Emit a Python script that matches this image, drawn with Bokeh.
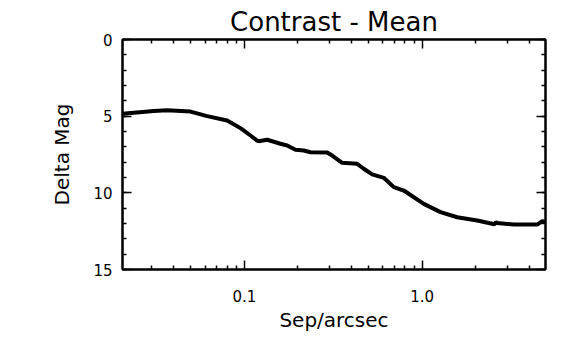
from bokeh.plotting import figure
from bokeh.models import Range1d, FixedTicker, LinearAxis, LogAxis
from bokeh.embed import file_html
from bokeh.resources import INLINE

# Data
sep = [0.0206, 0.0309, 0.0367, 0.0497, 0.0617, 0.0799, 0.0950, 0.1081, 0.1179,
       0.1204, 0.1342, 0.1594, 0.1739, 0.1936, 0.2157, 0.2351, 0.2920, 0.3114,
       0.3546, 0.4306, 0.4692, 0.5232, 0.6081, 0.6921, 0.7385, 0.7880, 1.021,
       1.268, 1.574, 2.040, 2.550, 2.600, 2.643, 3.278, 4.438, 4.735, 4.94]
mag = [4.85, 4.67, 4.62, 4.70, 5.00, 5.28, 5.78, 6.26, 6.59,
       6.63, 6.54, 6.80, 6.91, 7.19, 7.24, 7.35, 7.37, 7.57,
       8.04, 8.11, 8.43, 8.80, 9.02, 9.63, 9.74, 9.85, 10.72,
       11.26, 11.59, 11.80, 12.05, 11.92, 11.96, 12.07, 12.07, 11.85, 11.9]

x_major = [0.1, 1.0]
x_major_labels = {0.1: "0.1", 1.0: "1.0"}
x_minor = [0.03, 0.04, 0.05, 0.06, 0.07, 0.08, 0.09,
           0.2, 0.3, 0.4, 0.5, 0.6, 0.7, 0.8, 0.9, 2.0, 3.0, 4.0]
y_major = [0, 5, 10, 15]
y_minor = list(range(0, 16))

FONT = "DejaVu Sans"

p = figure(width=573, height=344, x_axis_type="log",
           x_range=Range1d(0.0206, 4.94), y_range=Range1d(15, 0),
           output_backend="svg", toolbar_location=None,
           title="Contrast - Mean",
           min_border_left=122, min_border_right=28,
           min_border_top=39, min_border_bottom=75)

p.title.align = "center"
p.title.text_font = FONT
p.title.text_font_size = "26px"
p.title.text_font_style = "normal"
p.title.text_color = "black"
p.title.standoff = 5
p.title.offset = 0

p.xgrid.visible = False
p.ygrid.visible = False
p.outline_line_color = "black"
p.outline_line_width = 2
p.background_fill_color = "white"
p.border_fill_color = "white"

p.line(sep, mag, line_color="black", line_width=4)

def style(ax, major, minor, overrides=None, blank=False):
    ax.ticker = FixedTicker(ticks=major, minor_ticks=minor)
    ax.axis_line_color = "black"
    ax.axis_line_width = 2
    ax.major_tick_in = 9
    ax.major_tick_out = 0
    ax.minor_tick_in = 4
    ax.minor_tick_out = 0
    ax.major_tick_line_width = 1.5
    ax.minor_tick_line_width = 1.5
    ax.major_tick_line_color = "black"
    ax.minor_tick_line_color = "black"
    ax.major_label_text_font = FONT
    ax.major_label_text_font_size = "15px"
    ax.major_label_text_color = "black"
    ax.axis_label_text_font = FONT
    ax.axis_label_text_font_size = "20px"
    ax.axis_label_text_font_style = "normal"
    ax.axis_label_text_color = "black"
    if overrides:
        ax.major_label_overrides = overrides
    if blank:
        ax.major_label_overrides = {t: "" for t in major}
        ax.major_label_standoff = 0

xa = p.xaxis[0]
style(xa, x_major, x_minor, overrides=x_major_labels)
xa.axis_label = "Sep/arcsec"
xa.major_label_standoff = 20
xa.axis_label_standoff = 3

ya = p.yaxis[0]
style(ya, y_major, y_minor)
ya.axis_label = "Delta Mag"
ya.major_label_standoff = 10
ya.axis_label_standoff = 16
ya.major_label_orientation = "horizontal"

top = LogAxis()
style(top, x_major, x_minor, blank=True)
p.add_layout(top, "above")

right = LinearAxis()
style(right, y_major, y_minor, blank=True)
p.add_layout(right, "right")

open("out.html", "w").write(file_html(p, INLINE))
